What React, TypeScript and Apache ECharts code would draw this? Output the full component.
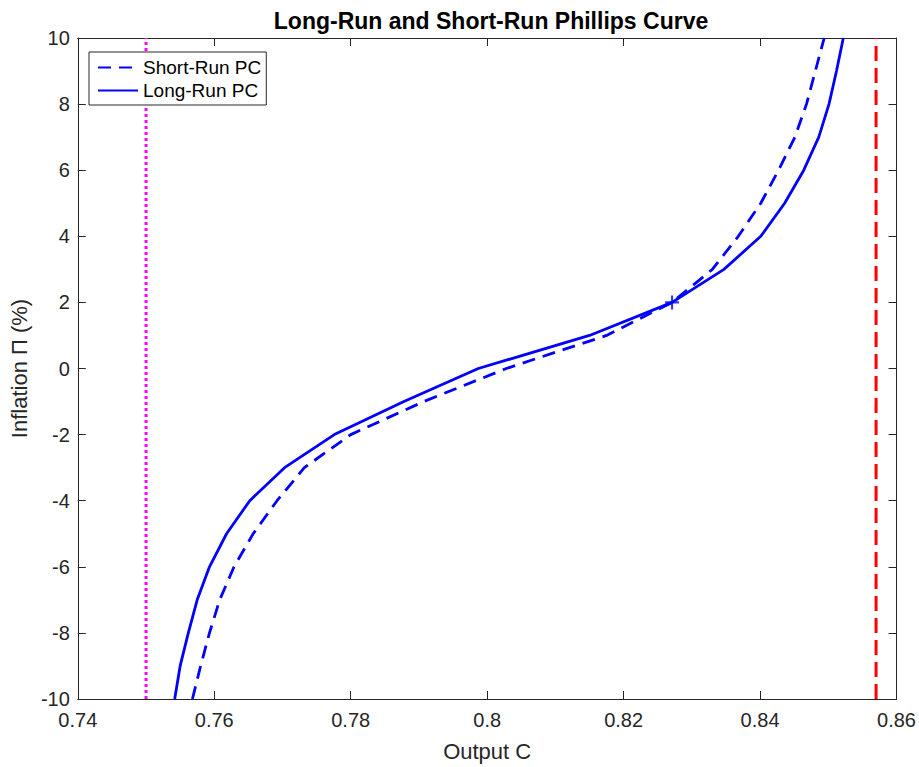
import React, { useEffect, useRef } from "react";
import * as echarts from "echarts";

const shortRunX = [0.7568, 0.758, 0.7593, 0.7608, 0.7629, 0.7657, 0.7692, 0.7732, 0.7800, 0.7907, 0.8028, 0.8175, 0.8271, 0.833, 0.8368, 0.8401, 0.8427, 0.8451, 0.8468, 0.8481, 0.8494];
const longRunX = [0.7542, 0.755, 0.7562, 0.7575, 0.7593, 0.7618, 0.7652, 0.7703, 0.7776, 0.7878, 0.7987, 0.815, 0.8271, 0.8347, 0.8401, 0.8436, 0.8464, 0.8486, 0.8501, 0.8512, 0.8522];
const inflation = [-10, -9, -8, -7, -6, -5, -4, -3, -2, -1, 0, 1, 2, 3, 4, 5, 6, 7, 8, 9, 10];
const steadyState = [0.8271, 2];
const upperBoundX = 0.857;
const lowerBoundX = 0.75;
const yRange = [-10, 10];
const xRange = [0.74, 0.86];

export default function App() {
  const ref = useRef<HTMLDivElement>(null);
  useEffect(() => {
    if (!ref.current) return;
    const chart = echarts.init(ref.current, undefined, { renderer: "svg" });
    const font = "Liberation Sans, Arial, Helvetica, sans-serif";
    const axisColor = "#262626";
    const baseX = {
      type: "value" as const,
      min: xRange[0],
      max: xRange[1],
      interval: 0.02,
      splitLine: { show: false },
      axisLine: { show: true, onZero: false, lineStyle: { color: axisColor, width: 1 } },
      axisTick: { show: true, inside: true, length: 8, lineStyle: { color: axisColor } },
    };
    const baseY = {
      type: "value" as const,
      min: yRange[0],
      max: yRange[1],
      interval: 2,
      splitLine: { show: false },
      axisLine: { show: true, onZero: false, lineStyle: { color: axisColor, width: 1 } },
      axisTick: { show: true, inside: true, length: 8, lineStyle: { color: axisColor } },
    };
    chart.setOption({
      animation: false,
      backgroundColor: "#ffffff",
      title: {
        text: "Long-Run and Short-Run Phillips Curve",
        left: 491,
        textAlign: "center",
        top: 9,
        padding: 0,
        textStyle: { fontFamily: font, fontSize: 23, fontWeight: "bold", color: "#000" },
      },
      grid: { left: 76, right: 22, top: 38, bottom: 62 },
      legend: {
        orient: "vertical",
        left: 89,
        top: 52,
        padding: [6, 5, 5, 8],
        itemGap: 4,
        itemWidth: 40,
        itemHeight: 14,
        borderColor: axisColor,
        borderWidth: 1,
        backgroundColor: "#fff",
        itemStyle: { opacity: 0 },
        data: ["Short-Run PC", "Long-Run PC"],
        textStyle: { fontFamily: font, fontSize: 19, color: "#000" },
      },
      xAxis: [
        {
          ...baseX,
          position: "bottom",
          name: "Output C",
          nameLocation: "middle",
          nameGap: 41,
          nameTextStyle: { fontFamily: font, fontSize: 22, color: axisColor },
          axisLabel: { fontFamily: font, fontSize: 20, color: axisColor, margin: 11 },
        },
        { ...baseX, position: "top", axisLabel: { show: false } },
      ],
      yAxis: [
        {
          ...baseY,
          position: "left",
          name: "Inflation Π (%)",
          nameLocation: "middle",
          nameGap: 43,
          nameTextStyle: { fontFamily: font, fontSize: 22, color: axisColor },
          axisLabel: { fontFamily: font, fontSize: 20, color: axisColor, margin: 8 },
        },
        { ...baseY, position: "right", axisLabel: { show: false } },
      ],
      series: [
        {
          name: "Short-Run PC",
          type: "line",
          data: shortRunX.map((x, i) => [x, inflation[i]]),
          symbol: "none",
          lineStyle: { color: "#0000ff", width: 2.8, type: [13, 8] },
          itemStyle: { color: "#0000ff" },
        },
        {
          name: "Long-Run PC",
          type: "line",
          data: longRunX.map((x, i) => [x, inflation[i]]),
          symbol: "none",
          lineStyle: { color: "#0000ff", width: 2.8, type: "solid" },
          itemStyle: { color: "#0000ff" },
        },
        {
          name: "Upper bound",
          type: "line",
          data: [[upperBoundX, yRange[0]], [upperBoundX, yRange[1]]],
          symbol: "none",
          lineStyle: { color: "#ff0000", width: 3, type: [15, 7] },
        },
        {
          name: "Lower bound",
          type: "line",
          data: [[lowerBoundX, yRange[0]], [lowerBoundX, yRange[1]]],
          symbol: "none",
          lineStyle: { color: "#ff00ff", width: 3, type: [3, 3] },
        },
        {
          name: "Steady state",
          type: "scatter",
          data: [steadyState],
          symbol: "path://M-1.5,-10h3v20h-3zM-10,-1.5h20v3h-20z",
          symbolSize: 14,
          itemStyle: { color: "#0000ff" },
        },
      ],
    });
    return () => chart.dispose();
  }, []);
  return <div ref={ref} style={{ position: "fixed", left: 0, top: 0, width: 919, height: 767 }} />;
}
